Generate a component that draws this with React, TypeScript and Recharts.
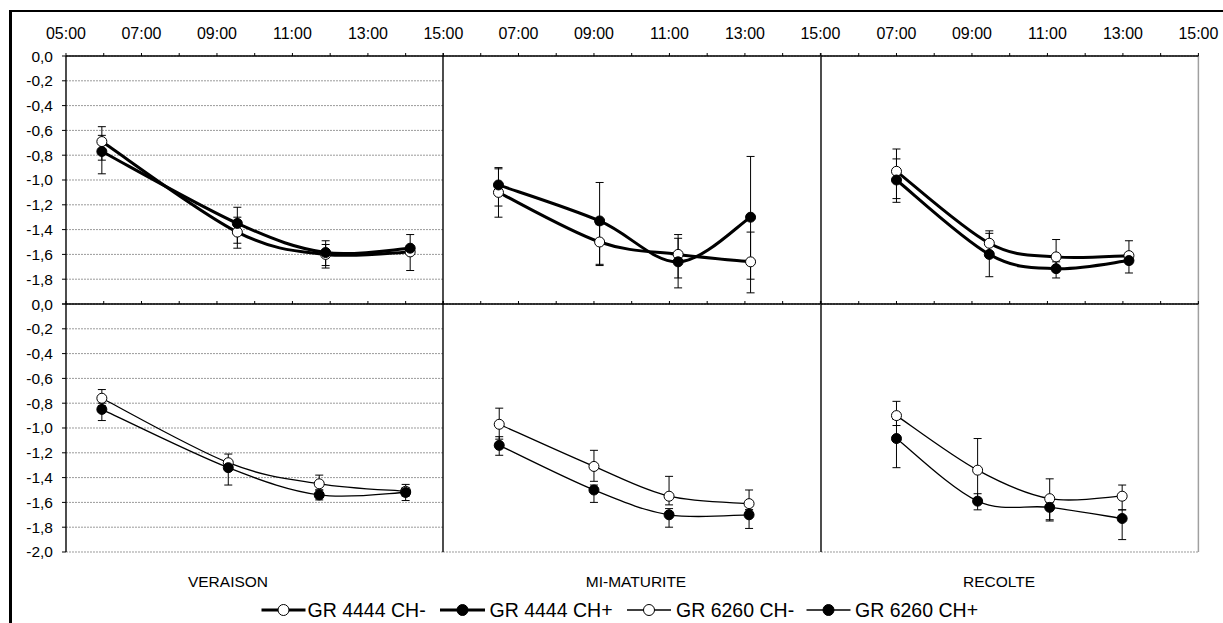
import React from 'react';
import { LineChart, Line, XAxis, YAxis, CartesianGrid, ErrorBar, ReferenceLine } from 'recharts';

// ---------- DATA ----------
const stages = ['VERAISON', 'MI-MATURITE', 'RECOLTE'];
const hourTicks = [5, 6, 7, 8, 9, 10, 11, 12, 13, 14, 15];
const valueTicks = [0, -0.2, -0.4, -0.6, -0.8, -1.0, -1.2, -1.4, -1.6, -1.8, -2.0];
const seriesNames = ['GR 4444 CH-', 'GR 4444 CH+', 'GR 6260 CH-', 'GR 6260 CH+'];

// measurement times (decimal hours), one list per stage
const hours4444 = [
  [5.95, 9.54, 11.88, 14.12],
  [6.47, 9.15, 11.23, 13.15],
  [7.0, 9.46, 11.23, 13.16],
];
const hours6260 = [
  [5.95, 9.3, 11.71, 14.0],
  [6.49, 9.0, 10.99, 13.11],
  [7.0, 9.15, 11.06, 12.98],
];

// GR 4444 CH-
const gr4444Minus = [
  [-0.69, -1.42, -1.6, -1.58],
  [-1.1, -1.5, -1.6, -1.66],
  [-0.93, -1.51, -1.62, -1.61],
];
const gr4444MinusHigh = [
  [-0.57, -1.3, -1.52, -1.53],
  [-0.9, -1.36, -1.44, -1.42],
  [-0.75, -1.41, -1.48, -1.49],
];
const gr4444MinusLow = [
  [-0.84, -1.55, -1.71, -1.73],
  [-1.3, -1.69, -1.79, -1.91],
  [-1.15, -1.6, -1.7, -1.66],
];

// GR 4444 CH+
const gr4444Plus = [
  [-0.77, -1.35, -1.585, -1.55],
  [-1.04, -1.33, -1.66, -1.3],
  [-1.0, -1.6, -1.715, -1.65],
];
const gr4444PlusHigh = [
  [-0.64, -1.22, -1.49, -1.44],
  [-0.91, -1.02, -1.47, -0.81],
  [-0.83, -1.43, -1.66, -1.6],
];
const gr4444PlusLow = [
  [-0.95, -1.51, -1.69, -1.59],
  [-1.21, -1.68, -1.87, -1.8],
  [-1.18, -1.78, -1.79, -1.75],
];

// GR 6260 CH-
const gr6260Minus = [
  [-0.76, -1.28, -1.45, -1.51],
  [-0.97, -1.31, -1.55, -1.61],
  [-0.9, -1.34, -1.57, -1.55],
];
const gr6260MinusHigh = [
  [-0.69, -1.21, -1.38, -1.455],
  [-0.84, -1.18, -1.39, -1.5],
  [-0.785, -1.085, -1.41, -1.46],
];
const gr6260MinusLow = [
  [-0.82, -1.33, -1.5, -1.55],
  [-1.09, -1.43, -1.62, -1.66],
  [-0.98, -1.6, -1.74, -1.66],
];

// GR 6260 CH+
const gr6260Plus = [
  [-0.85, -1.32, -1.54, -1.52],
  [-1.14, -1.5, -1.7, -1.7],
  [-1.085, -1.59, -1.64, -1.73],
];
const gr6260PlusHigh = [
  [-0.8, -1.27, -1.5, -1.48],
  [-1.07, -1.46, -1.65, -1.66],
  [-0.93, -1.53, -1.6, -1.66],
];
const gr6260PlusLow = [
  [-0.94, -1.46, -1.58, -1.585],
  [-1.22, -1.6, -1.8, -1.81],
  [-1.32, -1.66, -1.75, -1.9],
];

// ---------- LAYOUT ----------
const PLOT_LEFT = 66;
const PANEL_W = 377.4;
const ROW_TOP = [56, 304];
const ROW_H = 248;
const ML = 60;
const MT = 50;
const MR = 30;
const MB = 10;
const FONT = '"Liberation Sans", Arial, sans-serif';

// Excel-like smoothed line (Catmull-Rom through the points)
const excelCurve: any = (context: any) => {
  let pts: number[][] = [];
  return {
    areaStart() {},
    areaEnd() {},
    lineStart() {
      pts = [];
    },
    point(x: number, y: number) {
      pts.push([+x, +y]);
    },
    lineEnd() {
      if (!pts.length) return;
      context.moveTo(pts[0][0], pts[0][1]);
      for (let i = 0; i < pts.length - 1; i++) {
        const p0 = pts[i - 1] || pts[i];
        const p1 = pts[i];
        const p2 = pts[i + 1];
        const p3 = pts[i + 2] || pts[i + 1];
        context.bezierCurveTo(
          p1[0] + (p2[0] - p0[0]) / 6,
          p1[1] + (p2[1] - p0[1]) / 6,
          p2[0] - (p3[0] - p1[0]) / 6,
          p2[1] - (p3[1] - p1[1]) / 6,
          p2[0],
          p2[1]
        );
      }
    },
  };
};

function buildRows(
  hours: number[],
  minus: number[], minusHi: number[], minusLo: number[],
  plus: number[], plusHi: number[], plusLo: number[]
) {
  return hours.map((t, i) => ({
    t,
    minus: minus[i],
    plus: plus[i],
    minusErr: [minus[i] - minusLo[i], minusHi[i] - minus[i]],
    plusErr: [plus[i] - plusLo[i], plusHi[i] - plus[i]],
  }));
}

const fmtHour = (v: number) => `${String(v).padStart(2, '0')}:00`;
const fmtVal = (v: number) => (Math.abs(v) < 1e-9 ? '0,0' : v.toFixed(1).replace('.', ','));

function Panel({ row, col }: { row: number; col: number }) {
  const data =
    row === 0
      ? buildRows(hours4444[col], gr4444Minus[col], gr4444MinusHigh[col], gr4444MinusLow[col], gr4444Plus[col], gr4444PlusHigh[col], gr4444PlusLow[col])
      : buildRows(hours6260[col], gr6260Minus[col], gr6260MinusHigh[col], gr6260MinusLow[col], gr6260Plus[col], gr6260PlusHigh[col], gr6260PlusLow[col]);
  const lw = row === 0 ? 3 : 1.3;
  const x0 = PLOT_LEFT + col * PANEL_W;
  const y0 = ROW_TOP[row];
  const xFmt = (v: number) => {
    if (row !== 0) return '';
    if (v % 2 === 0) return '';
    if (v === 5 && col !== 0) return '';
    return fmtHour(v);
  };
  const yFmt = (v: number) => {
    if (row === 0 && v <= -1.99) return '';
    return fmtVal(v);
  };
  return (
    <div style={{ position: 'absolute', left: x0 - ML, top: y0 - MT }}>
      <LineChart
        width={PANEL_W + ML + MR}
        height={ROW_H + MT + MB}
        data={data}
        margin={{ top: 0, right: MR, bottom: MB, left: 0 }}
      >
        <CartesianGrid vertical={false} stroke="#9a9a9a" strokeDasharray="2 1" strokeWidth={1} />
        <XAxis
          orientation="top"
          type="number"
          dataKey="t"
          domain={[5, 15]}
          ticks={hourTicks}
          interval={0}
          height={MT}
          tickSize={3}
          tickMargin={14}
          allowDataOverflow
          axisLine={{ stroke: '#000', strokeWidth: 1.4 }}
          tickLine={{ stroke: '#000', strokeWidth: 1 }}
          tick={{ fontSize: 16, fill: '#000', fontFamily: FONT }}
          tickFormatter={xFmt}
        />
        {col === 0 ? (
          <YAxis
            type="number"
            domain={[-2, 0]}
            ticks={valueTicks}
            interval={0}
            width={ML}
            tickSize={4}
            tickMargin={9}
            allowDataOverflow
            axisLine={{ stroke: '#000', strokeWidth: 1.4 }}
            tickLine={{ stroke: '#000', strokeWidth: 1 }}
            tick={{ fontSize: 15.5, fill: '#000', fontFamily: FONT }}
            tickFormatter={yFmt}
          />
        ) : (
          <YAxis
            type="number"
            domain={[-2, 0]}
            ticks={valueTicks}
            interval={0}
            width={ML}
            allowDataOverflow
            tick={false}
            tickLine={false}
            axisLine={{ stroke: '#000', strokeWidth: 1.4 }}
          />
        )}
        {col === 2 && <ReferenceLine x={15} stroke="#a0a0a0" strokeWidth={1.5} />}
        <Line
          dataKey="minus"
          name={seriesNames[row * 2]}
          type={excelCurve}
          stroke="#000"
          strokeWidth={lw}
          dot={{ r: 5, fill: '#fff', stroke: '#000', strokeWidth: 1 }}
          isAnimationActive={false}
        >
          <ErrorBar dataKey="minusErr" direction="y" width={4} stroke="#000" strokeWidth={1} />
        </Line>
        <Line
          dataKey="plus"
          name={seriesNames[row * 2 + 1]}
          type={excelCurve}
          stroke="#000"
          strokeWidth={lw}
          dot={{ r: 5, fill: '#000', stroke: '#000', strokeWidth: 1 }}
          isAnimationActive={false}
        >
          <ErrorBar dataKey="plusErr" direction="y" width={4} stroke="#000" strokeWidth={1} />
        </Line>
      </LineChart>
    </div>
  );
}

const categoryX = [228, 636, 999];
const legendLayout = [
  { x1: 261.5, x2: 305.5, tx: 307.5, filled: false, w: 3 },
  { x1: 440, x2: 485, tx: 489.5, filled: true, w: 3 },
  { x1: 627, x2: 671, tx: 676, filled: false, w: 1.3 },
  { x1: 806.5, x2: 850.5, tx: 855, filled: true, w: 1.3 },
];

export default function App() {
  return (
    <div
      style={{
        position: 'fixed',
        left: 0,
        top: 0,
        width: 1223,
        height: 623,
        background: '#fff',
        overflow: 'hidden',
        fontFamily: FONT,
      }}
    >
      <div
        style={{
          position: 'absolute',
          left: 9,
          top: 9.5,
          width: 1400,
          height: 800,
          borderLeft: '3px solid #000',
          borderTop: '2.5px solid #000',
        }}
      />
      {[0, 1, 2].map((c) => (
        <Panel key={'t' + c} row={0} col={c} />
      ))}
      {[0, 1, 2].map((c) => (
        <Panel key={'b' + c} row={1} col={c} />
      ))}
      <svg
        width={1223}
        height={623}
        style={{ position: 'absolute', left: 0, top: 0, pointerEvents: 'none' }}
      >
        {stages.map((s, i) => (
          <text key={s} x={categoryX[i]} y={586.5} textAnchor="middle" fontSize={15.5} fill="#000" fontFamily={FONT}>
            {s}
          </text>
        ))}
        {seriesNames.map((n, i) => {
          const L = legendLayout[i];
          const cx = (L.x1 + L.x2) / 2;
          return (
            <g key={n}>
              <line x1={L.x1} x2={L.x2} y1={610} y2={610} stroke="#000" strokeWidth={L.w} />
              <circle cx={cx} cy={610} r={5.5} fill={L.filled ? '#000' : '#fff'} stroke="#000" strokeWidth={1} />
              <text x={L.tx} y={616.8} fontSize={19.5} fill="#000" fontFamily={FONT}>
                {n}
              </text>
            </g>
          );
        })}
      </svg>
    </div>
  );
}
